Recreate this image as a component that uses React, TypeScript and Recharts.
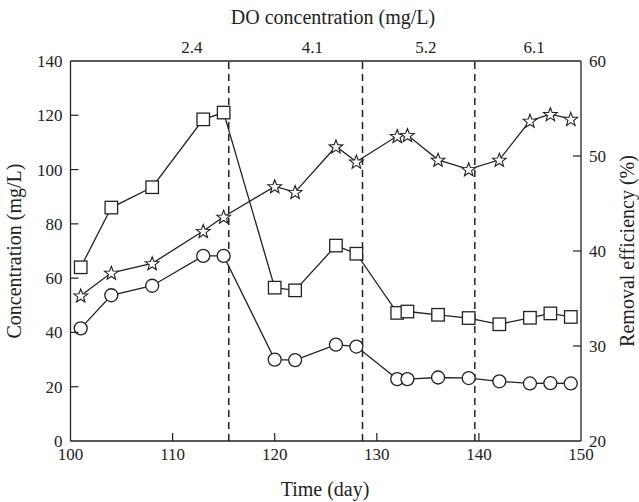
import React from 'react';
import { ComposedChart, Line, XAxis, YAxis, ReferenceLine, Label } from 'recharts';

// sampling days
const days = [101, 104, 108, 113, 115, 120, 122, 126, 128, 132, 133, 136, 139, 142, 145, 147, 149];
// influent concentration (mg/L) - squares
const influent = [64, 86, 93.5, 118.5, 121, 56.5, 55.5, 72, 69, 47.2, 47.7, 46.5, 45.3, 43, 45.4, 47, 45.7];
// effluent concentration (mg/L) - circles
const effluent = [41.5, 53.7, 57.2, 68.2, 68.2, 30, 29.8, 35.5, 34.8, 22.8, 22.8, 23.4, 23.2, 22, 21.2, 21.3, 21.2];
// removal efficiency (%) - stars
const removal = [35.3, 37.7, 38.7, 42.1, 43.6, 46.8, 46.2, 51, 49.4, 52.1, 52.2, 49.6, 48.6, 49.6, 53.7, 54.4, 53.9];

// DO phases
const phaseBounds = [115.5, 128.6, 139.6];
const doValues = ['2.4', '4.1', '5.2', '6.1'];
const doLabelDays = [111.9, 123.7, 134.8, 145.4];

const timeTicks = [100, 110, 120, 130, 140, 150];
const concTicks = [0, 20, 40, 60, 80, 100, 120, 140];
const effTicks = [20, 30, 40, 50, 60];

const data = days.map((d, i) => ({
  day: d,
  influent: influent[i],
  effluent: effluent[i],
  removal: removal[i],
}));

const FONT = '"Liberation Serif", "Times New Roman", serif';
const INK = '#222';
const TICK_LEN = 8;

const BottomTick = (props: any) => {
  const { x, y, payload } = props;
  const edge = payload.value === 100 || payload.value === 150;
  return (
    <g>
      {!edge && <line x1={x} x2={x} y1={y} y2={y - TICK_LEN} stroke={INK} strokeWidth={1.2} />}
      <text x={x} y={y + 19} textAnchor="middle" fontSize={17} fill={INK} fontFamily={FONT}>
        {payload.value}
      </text>
    </g>
  );
};

const TopTick = (props: any) => {
  const { x, y, payload } = props;
  const i = doLabelDays.indexOf(payload.value);
  return (
    <text x={x} y={y - 8} textAnchor="middle" fontSize={17} fill={INK} fontFamily={FONT}>
      {doValues[i]}
    </text>
  );
};

const LeftTick = (props: any) => {
  const { x, y, payload } = props;
  const edge = payload.value === 0 || payload.value === 140;
  return (
    <g>
      {!edge && <line x1={x} x2={x + TICK_LEN} y1={y} y2={y} stroke={INK} strokeWidth={1.2} />}
      <text x={x - 8} y={y} dy="0.35em" textAnchor="end" fontSize={17} fill={INK} fontFamily={FONT}>
        {payload.value}
      </text>
    </g>
  );
};

const RightTick = (props: any) => {
  const { x, y, payload } = props;
  const edge = payload.value === 20 || payload.value === 60;
  return (
    <g>
      {!edge && <line x1={x} x2={x - TICK_LEN} y1={y} y2={y} stroke={INK} strokeWidth={1.2} />}
      <text x={x + 8} y={y} dy="0.35em" textAnchor="start" fontSize={17} fill={INK} fontFamily={FONT}>
        {payload.value}
      </text>
    </g>
  );
};

const SquareDot = (p: any) => {
  const s = 12.5;
  return (
    <rect key={`sq-${p.index}`} x={p.cx - s / 2} y={p.cy - s / 2} width={s} height={s}
      fill="#fff" stroke={INK} strokeWidth={1.3} />
  );
};

const CircleDot = (p: any) => (
  <circle key={`ci-${p.index}`} cx={p.cx} cy={p.cy} r={6.5} fill="#fff" stroke={INK} strokeWidth={1.3} />
);

const StarDot = (p: any) => {
  const R = 7.2;
  const r = R * 0.42;
  const pts: string[] = [];
  for (let k = 0; k < 10; k++) {
    const rad = k % 2 === 0 ? R : r;
    const a = -Math.PI / 2 + (k * Math.PI) / 5;
    pts.push(`${p.cx + rad * Math.cos(a)},${p.cy + 0.6 + rad * Math.sin(a)}`);
  }
  return (
    <polygon key={`st-${p.index}`} points={pts.join(' ')} fill="#fff" stroke={INK}
      strokeWidth={1.1} strokeLinejoin="miter" />
  );
};

const App = () => (
  <div style={{ position: 'absolute', left: 0, top: 0, width: 639, height: 502, background: '#fff' }}>
    <ComposedChart width={639} height={502} data={data} margin={{ top: 0, right: 0, bottom: 0, left: 0 }}>
      <XAxis
        xAxisId="bottom" dataKey="day" type="number" domain={[100, 150]} ticks={timeTicks}
        height={61} tickSize={0} tickMargin={0} tick={<BottomTick />} interval={0}
        axisLine={{ stroke: INK, strokeWidth: 1.3 }} tickLine={false}
      >
        <Label content={() => (
          <text x={325} y={496} textAnchor="middle" fontSize={20} fill={INK} fontFamily={FONT}>Time (day)</text>
        )} />
      </XAxis>
      <XAxis
        xAxisId="top" dataKey="day" orientation="top" type="number" domain={[100, 150]} ticks={doLabelDays}
        allowDataOverflow height={61} tickSize={0} tickMargin={0} tick={<TopTick />} interval={0}
        axisLine={{ stroke: INK, strokeWidth: 1.3 }} tickLine={false}
      >
        <Label content={() => (
          <text x={333} y={24} textAnchor="middle" fontSize={20} fill={INK} fontFamily={FONT}>DO concentration (mg/L)</text>
        )} />
      </XAxis>
      <YAxis
        yAxisId="left" type="number" domain={[0, 140]} ticks={concTicks} width={70.5}
        tickSize={0} tickMargin={0} tick={<LeftTick />} interval={0}
        axisLine={{ stroke: INK, strokeWidth: 1.3 }} tickLine={false}
      >
        <Label content={() => (
          <text x={0} y={0} transform="translate(21,251) rotate(-90)" textAnchor="middle" fontSize={20}
            fill={INK} fontFamily={FONT}>Concentration (mg/L)</text>
        )} />
      </YAxis>
      <YAxis
        yAxisId="right" orientation="right" type="number" domain={[20, 60]} ticks={effTicks} width={58}
        tickSize={0} tickMargin={0} tick={<RightTick />} interval={0}
        axisLine={{ stroke: INK, strokeWidth: 1.3 }} tickLine={false}
      >
        <Label content={() => (
          <text x={0} y={0} transform="translate(634,251) rotate(-90)" textAnchor="middle" fontSize={20}
            fill={INK} fontFamily={FONT}>Removal efficiency (%)</text>
        )} />
      </YAxis>

      {phaseBounds.map((b) => (
        <ReferenceLine key={b} x={b} xAxisId="bottom" yAxisId="left" stroke={INK}
          strokeWidth={1.5} strokeDasharray="7 5" />
      ))}

      <Line xAxisId="bottom" yAxisId="left" dataKey="influent" stroke={INK} strokeWidth={1.3}
        dot={SquareDot} activeDot={false} isAnimationActive={false} type="linear" />
      <Line xAxisId="bottom" yAxisId="left" dataKey="effluent" stroke={INK} strokeWidth={1.3}
        dot={CircleDot} activeDot={false} isAnimationActive={false} type="linear" />
      <Line xAxisId="bottom" yAxisId="right" dataKey="removal" stroke={INK} strokeWidth={1.3}
        dot={StarDot} activeDot={false} isAnimationActive={false} type="linear" />
    </ComposedChart>
  </div>
);

export default App;
